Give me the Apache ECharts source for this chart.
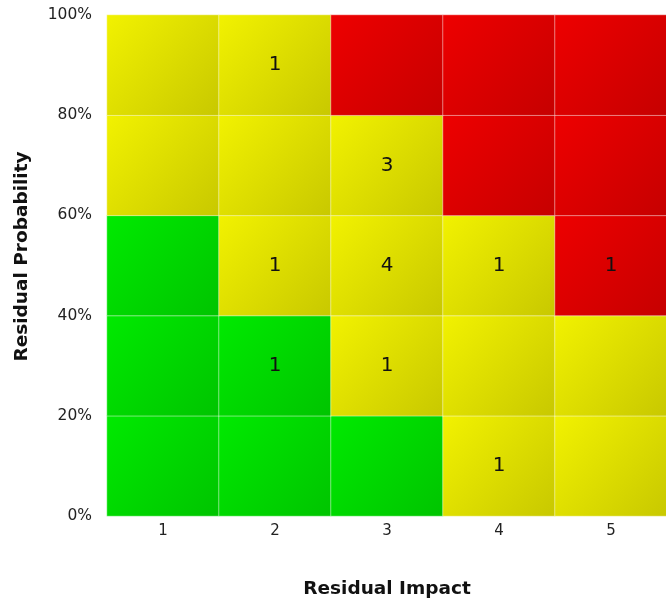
<!DOCTYPE html>
<html>
<head>
<meta charset="utf-8">
<script src="https://cdn.jsdelivr.net/npm/echarts@6/dist/echarts.min.js"></script>
<style>
html,body{margin:0;padding:0;background:#fff;}
#main{width:666px;height:604px;}
</style>
</head>
<body>
<div id="main"></div>
<script>
// Impact categories (x) and probability bands (y, bottom to top)
const impactCats = ['1', '2', '3', '4', '5'];
const probBands = ['0-20%', '20-40%', '40-60%', '60-80%', '80-100%'];
const probTicks = [0, 20, 40, 60, 80, 100];
// Zone per cell: rows bottom -> top, columns impact 1..5 (G=green, Y=yellow, R=red)
const zoneRow0 = ['G', 'G', 'G', 'Y', 'Y'];
const zoneRow1 = ['G', 'G', 'Y', 'Y', 'Y'];
const zoneRow2 = ['G', 'Y', 'Y', 'Y', 'R'];
const zoneRow3 = ['Y', 'Y', 'Y', 'R', 'R'];
const zoneRow4 = ['Y', 'Y', 'R', 'R', 'R'];
// Risk counts per cell
const countRow0 = [0, 0, 0, 1, 0];
const countRow1 = [0, 1, 1, 0, 0];
const countRow2 = [0, 1, 4, 1, 1];
const countRow3 = [0, 0, 3, 0, 0];
const countRow4 = [0, 1, 0, 0, 0];

const zones = [zoneRow0, zoneRow1, zoneRow2, zoneRow3, zoneRow4];
const counts = [countRow0, countRow1, countRow2, countRow3, countRow4];

const zoneColors = {
  G: ['#00ea00', '#00c400'],
  Y: ['#f2f200', '#c8c800'],
  R: ['#ee0000', '#c60000']
};
function grad(z) {
  return {
    type: 'linear', x: 0, y: 0, x2: 1, y2: 1,
    colorStops: [{offset: 0, color: zoneColors[z][0]}, {offset: 1, color: zoneColors[z][1]}]
  };
}

const data = [];
for (let r = 0; r < 5; r++) {
  for (let c = 0; c < 5; c++) {
    data.push({
      value: [c, r, counts[r][c]],
      itemStyle: {color: grad(zones[r][c])}
    });
  }
}

const FONT = 'DejaVu Sans';
const chart = echarts.init(document.getElementById('main'), null, {renderer: 'canvas'});
chart.setOption({
  animation: false,
  backgroundColor: '#ffffff',
  grid: {left: 107, top: 15, width: 560, height: 501, containLabel: false, outerBoundsMode: 'none'},
  xAxis: {
    type: 'category',
    data: impactCats,
    name: 'Residual Impact',
    nameLocation: 'middle',
    nameGap: 64,
    nameTextStyle: {fontFamily: FONT, fontWeight: 'bold', fontSize: 18.5, color: '#111'},
    axisLine: {show: false},
    axisTick: {show: false},
    splitLine: {show: false},
    axisLabel: {fontFamily: FONT, fontSize: 15, color: '#222', margin: 8}
  },
  yAxis: [
    {
      type: 'category',
      data: probBands,
      show: false
    },
    {
      type: 'value',
      position: 'left',
      min: 0, max: 100, interval: 20,
      name: 'Residual Probability',
      nameLocation: 'middle',
      nameGap: 75,
      nameRotate: 90,
      nameTextStyle: {fontFamily: FONT, fontWeight: 'bold', fontSize: 18.5, color: '#111', padding: [0, 0, 0, 18]},
      axisLine: {show: false},
      axisTick: {show: false},
      splitLine: {show: false},
      axisLabel: {fontFamily: FONT, fontSize: 15.5, color: '#222', margin: 15, formatter: '{value}%'}
    }
  ],
  series: [{
    type: 'heatmap',
    xAxisIndex: 0,
    yAxisIndex: 0,
    data: data,
    itemStyle: {borderColor: 'rgba(255,255,255,0.45)', borderWidth: 1},
    label: {
      show: true,
      fontFamily: FONT,
      fontSize: 20,
      color: '#111',
      formatter: p => (p.value[2] ? String(p.value[2]) : '')
    },
    emphasis: {disabled: true}
  }]
});
</script>
</body>
</html>
